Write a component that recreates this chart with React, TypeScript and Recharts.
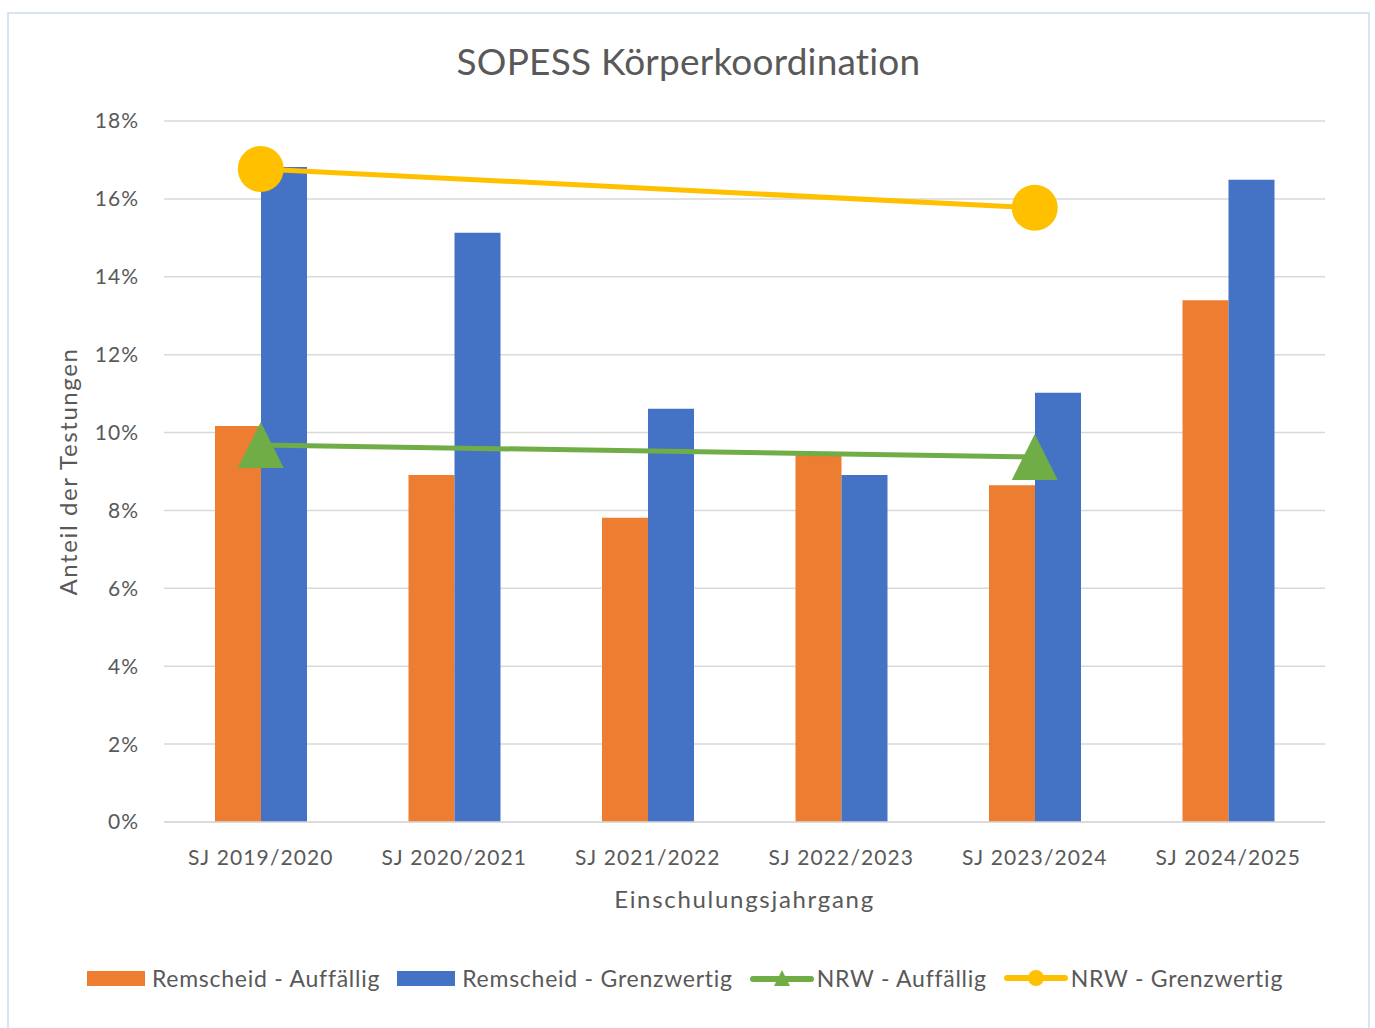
import { Bar, ComposedChart, Line, XAxis, YAxis, CartesianGrid, Legend, Label } from "recharts";

const categories = ["SJ 2019/2020", "SJ 2020/2021", "SJ 2021/2022", "SJ 2022/2023", "SJ 2023/2024", "SJ 2024/2025"];
const remscheidAuffaellig = [10.17, 8.91, 7.81, 9.5, 8.65, 13.4];
const remscheidGrenzwertig = [16.82, 15.13, 10.61, 8.91, 11.02, 16.49];
const nrwAuffaellig = [9.68, null, null, null, 9.37, null];
const nrwGrenzwertig = [16.77, null, null, null, 15.77, null];
const yTicks = [0, 2, 4, 6, 8, 10, 12, 14, 16, 18];

const FONT = "Lato, 'Open Sans', sans-serif";
const TEXT = "#595959";
const ORANGE = "#ED7D31";
const BLUE = "#4472C4";
const GREEN = "#70AD47";
const YELLOW = "#FFC000";

const data = categories.map((name, i) => ({
  name,
  remA: remscheidAuffaellig[i],
  remG: remscheidGrenzwertig[i],
  nrwA: nrwAuffaellig[i],
  nrwG: nrwGrenzwertig[i],
}));

function TriangleDot(props: any) {
  const { cx, cy, value } = props;
  if (value == null || cx == null || cy == null) return null;
  const s = 23;
  return <polygon points={`${cx},${cy - s} ${cx - s},${cy + s} ${cx + s},${cy + s}`} fill={GREEN} />;
}

function CircleDot(props: any) {
  const { cx, cy, value } = props;
  if (value == null || cx == null || cy == null) return null;
  return <circle cx={cx} cy={cy} r={23} fill={YELLOW} />;
}

function ChartLegend() {
  const item = { display: "flex", alignItems: "center", marginRight: 17 } as const;
  const label = { fontSize: 23, color: TEXT, fontFamily: FONT, letterSpacing: 0.75 };
  return (
    <div style={{ display: "flex", justifyContent: "center", alignItems: "center", height: 40, paddingLeft: 10 }}>
      <div style={item}>
        <div style={{ width: 58, height: 15, background: ORANGE, marginRight: 7 }} />
        <span style={label}>Remscheid - Auffällig</span>
      </div>
      <div style={item}>
        <div style={{ width: 58, height: 15, background: BLUE, marginRight: 7 }} />
        <span style={label}>Remscheid - Grenzwertig</span>
      </div>
      <div style={item}>
        <svg width={64} height={22} style={{ marginRight: 3 }}>
          <line x1={3} y1={12} x2={61} y2={12} stroke={GREEN} strokeWidth={6} strokeLinecap="round" />
          <polygon points="32,3 24,19 40,19" fill={GREEN} />
        </svg>
        <span style={label}>NRW - Auffällig</span>
      </div>
      <div style={item}>
        <svg width={64} height={22} style={{ marginRight: 3 }}>
          <line x1={3} y1={11} x2={61} y2={11} stroke={YELLOW} strokeWidth={6} strokeLinecap="round" />
          <circle cx={32} cy={11} r={8} fill={YELLOW} />
        </svg>
        <span style={label}>NRW - Grenzwertig</span>
      </div>
    </div>
  );
}

export default function App() {
  return (
    <div
      style={{
        position: "absolute",
        left: 7,
        top: 12,
        width: 1363,
        height: 1030,
        border: "2px solid #dae3f3",
        boxSizing: "border-box",
        background: "#fff",
        fontFamily: FONT,
      }}
    >
      <div
        style={{
          position: "absolute",
          top: 24,
          left: 0,
          width: "100%",
          textAlign: "center",
          fontSize: 37,
          color: TEXT,
          fontFamily: FONT,
          letterSpacing: 0.2,
        }}
      >
        SOPESS Körperkoordination
      </div>
      <ComposedChart
        width={1359}
        height={1014}
        data={data}
        margin={{ top: 107, right: 43, left: 35, bottom: 86 }}
        barGap={0}
        barSize={46}
        style={{ position: "absolute", left: 0, top: 0 }}
      >
        <CartesianGrid vertical={false} stroke="#d9d9d9" strokeWidth={1.5} />
        <XAxis
          dataKey="name"
          axisLine={{ stroke: "#d9d9d9", strokeWidth: 1.5 }}
          tickLine={false}
          tickMargin={22}
          height={80}
          tick={{ fill: TEXT, fontSize: 21, fontFamily: FONT, letterSpacing: 1.1 }}
        >
          <Label
            value="Einschulungsjahrgang"
            position="insideBottom"
            offset={-6}
            style={{ fill: TEXT, fontSize: 24, fontFamily: FONT, letterSpacing: 1.7 }}
          />
        </XAxis>
        <YAxis
          domain={[0, 18]}
          ticks={yTicks}
          tickFormatter={(v: number) => `${v}%`}
          axisLine={false}
          tickLine={false}
          tickMargin={19}
          width={120}
          tick={{ fill: TEXT, fontSize: 21, fontFamily: FONT, letterSpacing: 1 }}
        >
          <Label
            value="Anteil der Testungen"
            angle={-90}
            position="insideLeft"
            offset={24}
            style={{ fill: TEXT, fontSize: 24, fontFamily: FONT, textAnchor: "middle", letterSpacing: 1.6 }}
          />
        </YAxis>
        <Bar dataKey="remA" name="Remscheid - Auffällig" fill={ORANGE} isAnimationActive={false} />
        <Bar dataKey="remG" name="Remscheid - Grenzwertig" fill={BLUE} isAnimationActive={false} />
        <Line
          dataKey="nrwA"
          name="NRW - Auffällig"
          stroke={GREEN}
          strokeWidth={5}
          connectNulls
          dot={<TriangleDot />}
          activeDot={false}
          isAnimationActive={false}
        />
        <Line
          dataKey="nrwG"
          name="NRW - Grenzwertig"
          stroke={YELLOW}
          strokeWidth={5}
          connectNulls
          dot={<CircleDot />}
          activeDot={false}
          isAnimationActive={false}
        />
        <Legend content={<ChartLegend />} wrapperStyle={{ top: 944, bottom: "auto", left: 0, width: 1359 }} />
      </ComposedChart>
    </div>
  );
}
